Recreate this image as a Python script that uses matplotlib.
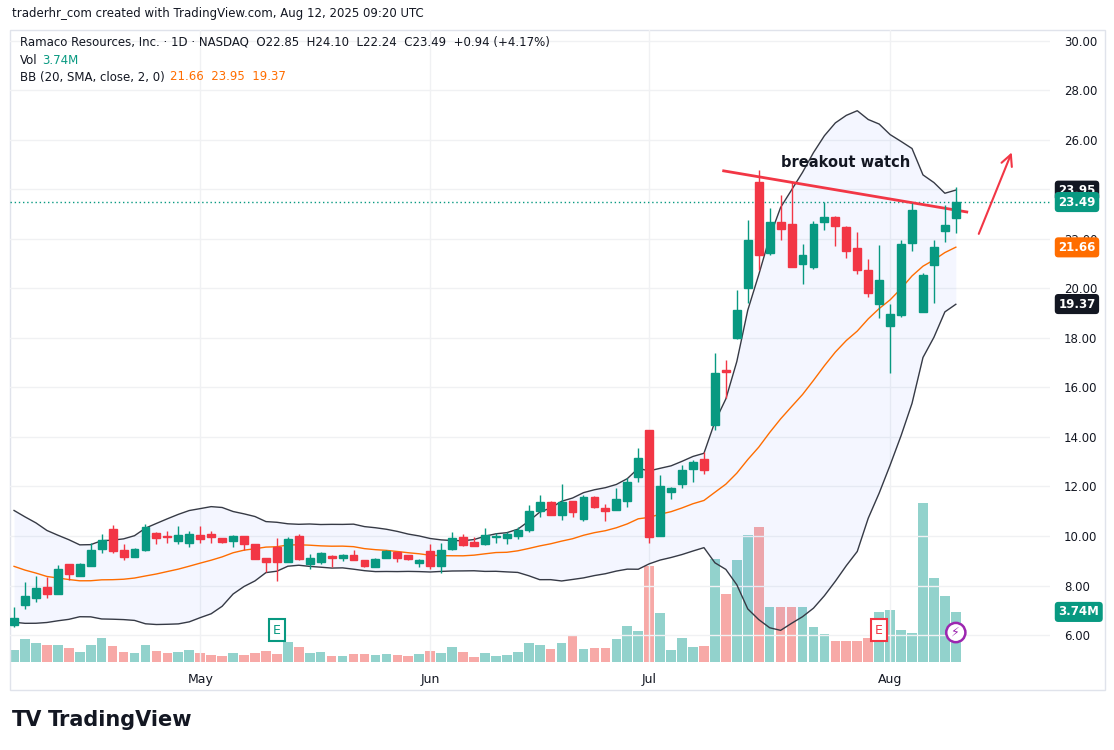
import matplotlib.pyplot as plt
import numpy as np
import pandas as pd
from matplotlib.patches import Rectangle, Ellipse

# daily OHLC, Apr 7 .. Aug 11 2025
opens = [6.40, 7.21, 7.51, 7.93, 7.66, 8.87, 8.39, 8.79, 9.46, 10.27, 9.44, 9.17, 9.44, 10.14, 10.00, 9.81, 9.73,
         10.04, 10.08, 9.91, 9.81, 10.00, 9.68, 9.10, 9.54, 8.96, 10.00, 8.87, 8.96, 9.19, 9.13, 9.23, 9.03, 8.76,
         9.13, 9.37, 9.23, 8.92, 9.40, 8.79, 9.46, 9.95, 9.75, 9.68, 9.97, 9.91, 10.02, 10.25, 10.99, 11.36, 10.85,
         11.42, 10.68, 11.57, 11.12, 11.05, 11.43, 12.37, 14.29, 10.00, 11.79, 12.09, 12.71, 13.11, 14.50, 16.70,
         17.99, 20.01, 24.32, 21.45, 22.70, 22.61, 21.00, 20.85, 22.70, 22.87, 22.50, 21.65, 20.75, 19.38, 18.50,
         18.91, 21.85, 19.04, 20.93, 22.34, 22.85]
highs = [7.15, 8.16, 8.39, 8.33, 8.83, 8.87, 8.92, 9.73, 10.08, 10.45, 9.68, 9.50, 10.49, 10.18, 10.22, 10.41, 10.22,
         10.41, 10.22, 9.91, 10.04, 10.00, 9.68, 9.10, 9.91, 9.95, 10.08, 9.27, 9.37, 9.23, 9.27, 9.44, 9.03, 9.13,
         9.44, 9.37, 9.23, 9.06, 9.68, 9.71, 10.18, 10.08, 9.95, 10.31, 10.11, 10.18, 10.38, 11.26, 11.66, 11.43,
         12.10, 11.42, 11.66, 11.62, 11.30, 11.93, 12.33, 13.54, 14.29, 12.47, 11.99, 12.87, 13.07, 13.41, 17.40,
         17.09, 19.94, 22.77, 24.79, 23.24, 23.78, 24.32, 21.80, 22.74, 23.51, 22.93, 22.53, 22.30, 21.18, 21.76,
         19.38, 21.96, 23.45, 20.62, 21.96, 23.38, 24.10]
lows = [6.31, 7.04, 7.35, 7.48, 7.66, 8.22, 8.39, 8.79, 9.30, 9.33, 9.03, 9.17, 9.41, 9.68, 9.73, 9.68, 9.54,
        9.73, 9.73, 9.71, 9.57, 9.44, 9.07, 8.56, 8.20, 8.96, 9.03, 8.65, 8.87, 8.73, 9.00, 9.03, 8.73, 8.76,
        9.13, 8.96, 9.03, 8.73, 8.65, 8.52, 9.44, 9.60, 9.60, 9.64, 9.71, 9.68, 9.88, 10.18, 10.76, 10.85,
        10.65, 10.78, 10.62, 11.12, 10.62, 11.05, 11.19, 12.20, 9.73, 10.00, 11.49, 11.93, 12.20, 12.51, 14.30,
        15.57, 17.95, 19.40, 20.75, 21.36, 21.96, 20.85, 20.19, 20.79, 22.37, 21.72, 21.25, 20.59, 19.67, 18.80,
        16.58, 18.84, 21.53, 19.03, 19.43, 21.86, 22.24]
closes = [6.67, 7.58, 7.89, 7.66, 8.67, 8.47, 8.87, 9.44, 9.84, 9.41, 9.17, 9.46, 10.38, 9.91, 9.97, 10.04, 10.08,
          9.87, 9.97, 9.77, 10.00, 9.68, 9.07, 8.96, 8.96, 9.87, 9.06, 9.10, 9.30, 9.13, 9.23, 9.03, 8.79, 9.07,
          9.41, 9.13, 9.07, 9.03, 8.79, 9.44, 9.91, 9.64, 9.60, 10.04, 9.99, 10.08, 10.25, 10.99, 11.36, 10.85,
          11.39, 10.95, 11.59, 11.19, 10.99, 11.50, 12.20, 13.14, 9.95, 12.02, 11.94, 12.67, 12.99, 12.67, 16.60,
          16.64, 19.14, 21.96, 21.36, 22.70, 22.41, 20.85, 21.36, 22.61, 22.87, 22.53, 21.53, 20.75, 19.81, 20.35,
          18.98, 21.80, 23.18, 20.55, 21.67, 22.57, 23.49]
volumes_m = [0.87, 1.69, 1.41, 1.24, 1.24, 1.04, 0.72, 1.24, 1.79, 1.17, 0.72, 0.65, 1.24, 0.80, 0.65, 0.72, 0.87,
             0.65, 0.50, 0.42, 0.65, 0.50, 0.65, 0.80, 0.60, 1.47, 1.12, 0.65, 0.72, 0.42, 0.42, 0.57, 0.57, 0.50,
             0.57, 0.50, 0.42, 0.57, 0.80, 0.70, 1.09, 0.72, 0.35, 0.65, 0.42, 0.50, 0.72, 1.39, 1.24, 0.95,
             1.39, 1.99, 0.95, 1.02, 1.02, 1.69, 2.66, 2.29, 7.14, 3.63, 0.87, 1.77, 1.09, 1.17, 7.66, 5.05,
             7.60, 9.50, 10.10, 4.10, 4.10, 4.10, 4.10, 2.60, 2.10, 1.60, 1.60, 1.60, 1.80, 3.70, 3.90,
             2.40, 2.20, 11.90, 6.30, 4.90, 3.74]
# closes of the 19 sessions before the window (estimated so the bands line up)
prior_closes = [10.6, 10.3, 10.4, 9.9, 9.7, 9.9, 9.4, 9.1, 9.3, 8.8, 8.5, 8.7, 8.3, 8.0, 8.1, 7.7, 7.4, 7.6, 7.1]

month_labels = ["May", "Jun", "Jul", "Aug"]
month_index = [17, 38, 58, 80]
price_ticks = [6, 8, 10, 12, 14, 16, 18, 20, 22, 24, 26, 28, 30]

UP, DOWN = "#089981", "#f23645"
UP_V, DOWN_V = "#92d2cc", "#f7a9a7"

all_close = pd.Series(prior_closes + closes)
mid = all_close.rolling(20).mean()
sd = all_close.rolling(20).std(ddof=0)
upper = (mid + 2 * sd).to_numpy()[len(prior_closes):]
lower = (mid - 2 * sd).to_numpy()[len(prior_closes):]
mid = mid.to_numpy()[len(prior_closes):]

fig = plt.figure(figsize=(11.14, 7.5), dpi=100)
ax = fig.add_axes([10 / 1114, 88 / 750, 1040 / 1114, 632 / 750])
vax = ax.twinx()
ax.set_zorder(vax.get_zorder() + 1)
ax.patch.set_visible(False)

x = np.arange(len(closes))
ax.set_xlim(-0.37, 94.6)
ax.set_ylim(4.91, 30.44)
vax.set_ylim(0, 47.2)
vax.set_yticks([])

for t in price_ticks:
    ax.axhline(t, color="#f0f1f3", lw=1, zorder=0)
for m in month_index:
    ax.axvline(m, color="#f0f1f3", lw=1, zorder=0)

cols = [UP if c >= o else DOWN for o, c in zip(opens, closes)]
vcols = [UP_V if c == UP else DOWN_V for c in cols]
vax.bar(x, volumes_m, width=0.88, color=vcols)

ax.fill_between(x, lower, upper, color="#2962ff", alpha=0.05, lw=0)
ax.plot(x, upper, color="#363a45", lw=1)
ax.plot(x, lower, color="#363a45", lw=1)
ax.plot(x, mid, color="#ff6d00", lw=1)

for i in x:
    ax.vlines(i, lows[i], highs[i], color=cols[i], lw=1, zorder=3)
    b0, b1 = sorted([opens[i], closes[i]])
    ax.add_patch(Rectangle((i - 0.36, b0), 0.72, max(b1 - b0, 0.04), color=cols[i], zorder=4))

ax.axhline(closes[-1], color=UP, lw=1, ls=(0, (1, 2)))
ax.plot([64.8, 87.0], [24.75, 23.09], color=DOWN, lw=2)
ax.annotate("", xy=(91.2, 25.6), xytext=(88.0, 22.1),
            arrowprops=dict(arrowstyle="->", color=DOWN, lw=1.5, mutation_scale=20))
ax.text(75.9, 25.07, "breakout watch", ha="center", va="center", fontsize=10.5, fontweight="bold", color="#131722")

for xi, c in [(24, UP), (79, DOWN)]:
    ax.text(xi, 6.2, "E", ha="center", va="center", fontsize=9, color=c,
            bbox=dict(boxstyle="square,pad=0.35", fc="white", ec=c, lw=1.5), zorder=6)
ax.add_patch(Ellipse((86, 6.1), 1.75, 0.78, fc="white", ec="#9c27b0", lw=1.8, zorder=6))
ax.text(86, 6.1, "⚡", ha="center", va="center", fontsize=9, color="#9c27b0", zorder=7)

ax.set_xticks(month_index)
ax.set_xticklabels(month_labels, fontsize=9, color="#131722")
ax.tick_params(axis="x", length=0, pad=8)
ax.yaxis.tick_right()
ax.set_yticks(price_ticks)
ax.set_yticklabels(["" if t == 24 else f"{t:.2f}" for t in price_ticks], fontsize=8.5, color="#131722")
ax.tick_params(axis="y", length=0, pad=10)
for s in ax.spines.values():
    s.set_visible(False)
for s in vax.spines.values():
    s.set_visible(False)

for val, fc in [(23.95, "#131722"), (23.49, UP), (21.66, "#ff6d00"), (19.37, "#131722")]:
    ax.text(1.008, ax.transAxes.inverted().transform(ax.transData.transform((0, val)))[1], f"{val:.2f}",
            transform=ax.transAxes, ha="left", va="center", fontsize=8.5, color="white", fontweight="bold",
            bbox=dict(boxstyle="round,pad=0.3", fc=fc, ec="none"), zorder=10)
vax.text(1.008, vax.transAxes.inverted().transform(vax.transData.transform((0, 3.74)))[1], "3.74M",
         transform=vax.transAxes, ha="left", va="center", fontsize=8.5, color="white", fontweight="bold",
         bbox=dict(boxstyle="round,pad=0.3", fc=UP, ec="none"))

fig.add_artist(Rectangle((10 / 1114, 60 / 750), 1095 / 1114, 660 / 750, transform=fig.transFigure,
                         fill=False, ec="#e0e3eb", lw=1))
fig.text(12 / 1114, 1 - 14 / 750, "traderhr_com created with TradingView.com, Aug 12, 2025 09:20 UTC",
         fontsize=8.5, va="center", color="#131722")
fig.text(20 / 1114, 1 - 42 / 750, "Ramaco Resources, Inc. · 1D · NASDAQ  O22.85  H24.10  L22.24  C23.49  +0.94 (+4.17%)",
         fontsize=8.5, va="center", color="#131722")
fig.text(20 / 1114, 1 - 60 / 750, "Vol", fontsize=8.5, va="center", color="#131722")
fig.text(42 / 1114, 1 - 60 / 750, "3.74M", fontsize=8.5, va="center", color=UP)
fig.text(20 / 1114, 1 - 77 / 750, "BB (20, SMA, close, 2, 0)", fontsize=8.5, va="center", color="#131722")
fig.text(170 / 1114, 1 - 77 / 750, "21.66  23.95  19.37", fontsize=8.5, va="center", color="#ff6d00")
fig.text(12 / 1114, 1 - 720 / 750, "TV", fontsize=15, fontweight="bold", va="center", color="#131722")
fig.text(48 / 1114, 1 - 720 / 750, "TradingView", fontsize=15, fontweight="bold", va="center", color="#131722")

fig.savefig("out.png", dpi=100, facecolor="white")
